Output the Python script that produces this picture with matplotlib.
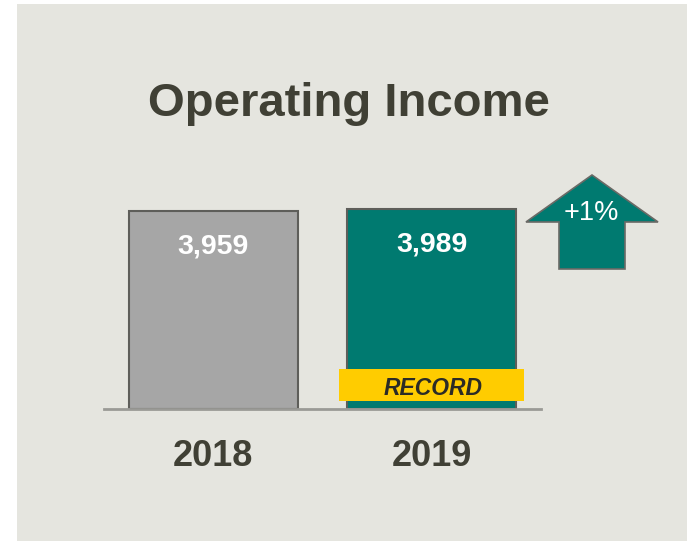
"""Operating income, 2018 vs 2019, single-slide bar panel"""

import matplotlib
matplotlib.use('Agg')
import matplotlib.pyplot as plt
from matplotlib.patches import Rectangle, Polygon

plt.rcParams['font.family'] = ['Liberation Sans', 'DejaVu Sans']

years = ['2018', '2019']
income = [3959, 3989]
bar_colors = ['#a6a6a6', '#007a70']
change_label = '+1%'
record_label = 'RECORD'

W, H = 687, 541
PX = 72 / 100  # points per pixel at dpi 100
TEXT_DARK = '#404035'
EDGE = '#5e5e5a'


def fpos(x, y):
	"""pixel position (from top-left) -> figure fraction"""
	return (x / W, 1 - y / H)


fig = plt.figure(figsize=(W / 100, H / 100), dpi=100)
fig.patch.set_facecolor('white')

# Slide panel, kept behind the axes
fig.patches.append(Rectangle(fpos(17, H), (W - 17) / W, (H - 4) / H,
	transform=fig.transFigure, facecolor='#e5e5df', edgecolor='none', zorder=-5))

fig.text(*fpos(349, 116), 'Operating Income', ha='center', va='baseline',
	fontsize=34, fontweight='bold', color=TEXT_DARK)

# Bars axis: baseline at y=409px, spans x 104..541px
ax_l, ax_r, ax_b, ax_t = 104, 541, 409, 175
ax = fig.add_axes([ax_l / W, 1 - ax_b / H, (ax_r - ax_l) / W, (ax_b - ax_t) / H])
ax.set_axis_off()
ax.set_zorder(1)
ax.set_xlim(-0.5, 1.5)
ax.set_ylim(0, 3959 * (ax_b - ax_t) / 198)

xs = list(range(len(years)))
ax.bar(xs, income, width=0.7735, color=bar_colors, edgecolor=EDGE, linewidth=1.5, zorder=2)
ax.axhline(0, color='#9a9a96', lw=2, zorder=3, clip_on=False)

for x, v, yr in zip(xs, income, years):
	ax.annotate('{:,}'.format(v), xy=(x, v), xytext=(0, -42 * PX), textcoords='offset points',
		ha='center', va='baseline', fontsize=20.5, fontweight='bold', color='white', zorder=4)
	ax.annotate(yr, xy=(x, 0), xytext=(0, -57 * PX), textcoords='offset points',
		ha='center', va='baseline', fontsize=26, fontweight='bold', color=TEXT_DARK,
		annotation_clip=False)

# Record ribbon across the bottom of the 2019 bar
ax.add_patch(Rectangle((1 - 0.424, 160), 0.846, 640, facecolor='#ffcc00',
	edgecolor='none', zorder=4, clip_on=False))
ax.annotate(record_label, xy=(1, 0), xytext=(1, 14 * PX), textcoords='offset points',
	ha='center', va='baseline', fontsize=16.5, fontweight='bold', fontstyle='italic',
	color='#2b2b26', zorder=5)

# Up arrow showing the year-over-year change
arrow_px = [(559, 269), (559, 222), (526, 222), (592, 175), (658, 222),
	(625, 222), (625, 269)]
fig.patches.append(Polygon([fpos(x, y) for x, y in arrow_px], closed=True,
	transform=fig.transFigure, facecolor='#007a70', edgecolor='#6a6a66',
	linewidth=1.2, zorder=3))
fig.text(*fpos(591, 220), change_label, ha='center', va='baseline',
	fontsize=19.5, color='white', zorder=4)

fig.savefig('out.png', dpi=100, facecolor=fig.get_facecolor())
